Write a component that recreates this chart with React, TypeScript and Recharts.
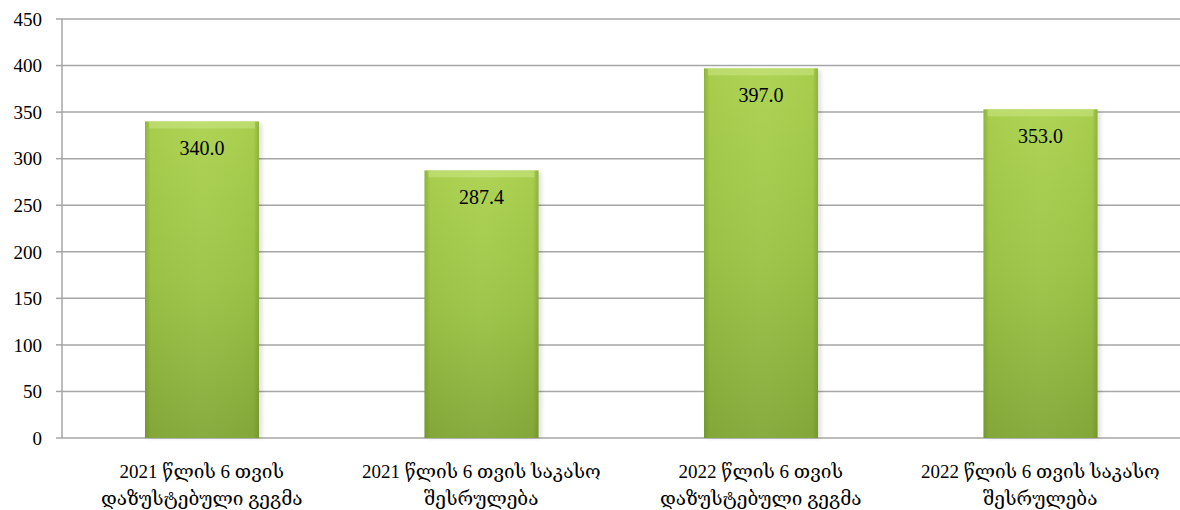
import { BarChart, Bar, XAxis, YAxis, CartesianGrid, LabelList } from 'recharts'

const categoryLines = [
  ['2021 წლის 6 თვის', 'დაზუსტებული გეგმა'],
  ['2021 წლის 6 თვის საკასო', 'შესრულება'],
  ['2022 წლის 6 თვის', 'დაზუსტებული გეგმა'],
  ['2022 წლის 6 თვის საკასო', 'შესრულება'],
]
const values = [340.0, 287.4, 397.0, 353.0]
const yTicks = [0, 50, 100, 150, 200, 250, 300, 350, 400, 450]
const edgeTicks = [0, 1, 2, 3, 4]

const data = categoryLines.map((lines, i) => ({ name: lines.join(' '), idx: i, value: values[i] }))

const FONT = '"Liberation Serif", "DejaVu Serif", serif'

function CategoryTick({ x, y, payload }: any) {
  const lines = categoryLines[payload.index] || [payload.value]
  return (
    <text x={x} y={y} textAnchor="middle" fill="#000" fontSize={19} fontFamily={FONT}>
      {lines.map((l, i) => (
        <tspan key={i} x={x} dy={i === 0 ? 32 : 27}>
          {l}
        </tspan>
      ))}
    </text>
  )
}

function GreenBar({ x, y, width, height }: any) {
  if (!height || height <= 0) return null
  return (
    <g>
      <rect x={x + 3} y={y + 2} width={width} height={height - 2} fill="#000" opacity={0.12} filter="url(#blur)" />
      <rect x={x} y={y} width={width} height={height} fill="url(#barV)" />
      <rect x={x} y={y} width={width} height={height} fill="url(#barH)" />
      <rect x={x + 4} y={y} width={width - 8} height={7} fill="#cde98a" opacity={0.5} />
    </g>
  )
}

export default function App() {
  return (
    <div style={{ position: 'absolute', left: 0, top: 0, background: '#fff' }}>
      <BarChart
        width={1180}
        height={510}
        data={data}
        margin={{ top: 19, right: 0, bottom: 0, left: 0 }}
        barSize={114}
      >
        <defs>
          <linearGradient id="barV" x1="0" y1="0" x2="0" y2="1">
            <stop offset="0%" stopColor="#acd250" />
            <stop offset="50%" stopColor="#9dc547" />
            <stop offset="100%" stopColor="#85a93a" />
          </linearGradient>
          <linearGradient id="barH" x1="0" y1="0" x2="1" y2="0">
            <stop offset="0%" stopColor="#4f6b14" stopOpacity={0.3} />
            <stop offset="5%" stopColor="#4f6b14" stopOpacity={0.04} />
            <stop offset="50%" stopColor="#ffffff" stopOpacity={0.03} />
            <stop offset="95%" stopColor="#4f6b14" stopOpacity={0.04} />
            <stop offset="100%" stopColor="#4f6b14" stopOpacity={0.3} />
          </linearGradient>
          <filter id="blur" x="-10%" y="-10%" width="120%" height="120%">
            <feGaussianBlur stdDeviation="2" />
          </filter>
        </defs>
        <CartesianGrid vertical={false} stroke="#a6a6a6" strokeWidth={1.5} />
        <XAxis
          xAxisId="edges"
          type="number"
          dataKey="idx"
          domain={[0, 4]}
          ticks={edgeTicks}
          height={0}
          tick={false}
          axisLine={{ stroke: '#a6a6a6', strokeWidth: 1.5 }}
          tickLine={{ stroke: '#a6a6a6', strokeWidth: 1.5 }}
          tickSize={7}
        />
        <XAxis
          dataKey="name"
          height={72}
          axisLine={false}
          tickLine={false}
          tick={<CategoryTick />}
          interval={0}
        />
        <YAxis
          width={62}
          domain={[0, 450]}
          ticks={yTicks}
          tick={{ fill: '#000', fontSize: 19, fontFamily: FONT }}
          tickSize={6}
          tickMargin={14}
          axisLine={{ stroke: '#a6a6a6', strokeWidth: 1.5 }}
          tickLine={{ stroke: '#a6a6a6', strokeWidth: 1.5 }}
        />
        <Bar dataKey="value" shape={<GreenBar />} isAnimationActive={false}>
          <LabelList
            dataKey="value"
            position="insideTop"
            offset={19}
            formatter={(v: number) => v.toFixed(1)}
            style={{ fill: '#000', fontSize: 20, fontFamily: FONT }}
          />
        </Bar>
      </BarChart>
    </div>
  )
}
